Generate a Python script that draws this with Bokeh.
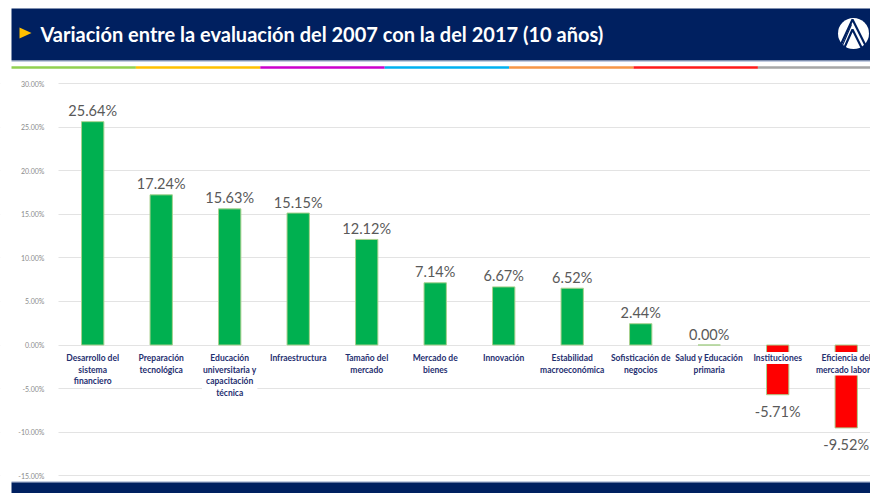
from bokeh.plotting import figure
from bokeh.models import ColumnDataSource, Range1d, FixedTicker, NumeralTickFormatter
from bokeh.core.properties import value
from bokeh.embed import file_html
from bokeh.resources import INLINE

# ---------------- data ----------------
title_text = "Variación entre la evaluación del 2007 con la del 2017 (10 años)"
categories = [
    "Desarrollo del\nsistema\nfinanciero",
    "Preparación\ntecnológica",
    "Educación\nuniversitaria y\ncapacitación\ntécnica",
    "Infraestructura",
    "Tamaño del\nmercado",
    "Mercado de\nbienes",
    "Innovación",
    "Estabilidad\nmacroeconómica",
    "Sofisticación de\nnegocios",
    "Salud y Educación\nprimaria",
    "Instituciones",
    "Eficiencia del\nmercado laboral",
]
variation = [0.2564, 0.1724, 0.1563, 0.1515, 0.1212, 0.0714, 0.0667, 0.0652,
             0.0244, 0.0000, -0.0571, -0.0952]
y_ticks = [-0.15, -0.10, -0.05, 0.0, 0.05, 0.10, 0.15, 0.20, 0.25, 0.30]
stripe_colors = ["#92D050", "#FFC000", "#CC00CC", "#00B0F0", "#F79646", "#FF1A1A", "#A6A6A6"]

NAVY = "#002060"
POS_COLOR = "#00B050"
NEG_COLOR = "#FF0000"

W, H = 870, 493
# layout of the category axis / value axis inside the page (pixels)
CAT_STEP = 68.5      # px per category
CAT0_PX = 92.2       # px of first category centre
ZERO_PX = 344.5      # px of 0 %
PX_PER_UNIT = 871.0  # px per 100 %

x_start = -CAT0_PX / CAT_STEP
x_end = x_start + W / CAT_STEP
y_end = ZERO_PX / PX_PER_UNIT
y_start = (ZERO_PX - H) / PX_PER_UNIT

idx = list(range(len(categories)))
colors = [POS_COLOR if v >= 0 else NEG_COLOR for v in variation]
labels = [f"{v * 100:.2f}%" for v in variation]
lab_off = [-11 if v >= 0 else 17 for v in variation]
src = ColumnDataSource(dict(x=idx, top=variation, color=colors, label=labels,
                            off=lab_off, cat=categories, zero=[0.0] * len(idx)))

p = figure(width=W, height=H, x_range=Range1d(x_start, x_end),
           y_range=Range1d(y_start, y_end), x_axis_location=None,
           toolbar_location=None, output_backend="svg",
           min_border=0, outline_line_color=None)
p.extra_x_ranges = {"px": Range1d(0, W)}
p.extra_y_ranges = {"px": Range1d(H, 0)}

p.xgrid.visible = False
p.ygrid.grid_line_color = "#E3E3E3"
p.ygrid.grid_line_width = 1
p.yaxis.fixed_location = -0.5
p.yaxis.ticker = FixedTicker(ticks=y_ticks)
p.yaxis.formatter = NumeralTickFormatter(format="0.00%")
p.yaxis.axis_line_color = None
p.yaxis.major_tick_line_color = None
p.yaxis.minor_tick_line_color = None
p.yaxis.major_label_standoff = 8
p.yaxis.major_label_text_font = "Lato"
p.yaxis.major_label_text_font_size = "7px"
p.yaxis.major_label_text_color = "#8C8C8C"

# white cover so that grid lines start at the value axis
p.quad(left=[0], right=[58], top=[72], bottom=[481], fill_color="white", line_color=None,
       x_range_name="px", y_range_name="px")

# ---------------- header ----------------
p.quad(left=[11], right=[W], top=[8], bottom=[60], fill_color=NAVY, line_color=None,
       x_range_name="px", y_range_name="px")
p.segment(x0=[11], x1=[W], y0=[61], y1=[61], line_color="#C3CCE0", line_width=1,
          x_range_name="px", y_range_name="px")
seg_w = 124.4
x0s = [11 + seg_w * i for i in range(len(stripe_colors))]
x1s = [min(W, x + seg_w) for x in x0s]
x1s[-1] = W
p.segment(x0=x0s, x1=x1s, y0=[67] * len(x0s), y1=[67] * len(x0s),
          line_color=stripe_colors, line_width=2.6, x_range_name="px", y_range_name="px")
p.patch(x=[19, 31, 19], y=[27, 32.5, 38], fill_color="#FFC000", line_color=None,
        x_range_name="px", y_range_name="px")
p.text(x=[40], y=[33], text=[title_text], text_color="white",
       text_font=value("Lato"), text_font_style="bold", text_font_size="20px",
       text_baseline="alphabetic", text_align="left", x_range_name="px", y_range_name="px")
# logo
p.circle(x=[853], y=[33], radius=15.5, fill_color="white", line_color=None,
         x_range_name="px", y_range_name="px")
p.multi_line(xs=[[839, 852, 866], [844, 852, 861]], ys=[[47, 19, 47], [47, 29, 47]],
             line_color=NAVY, line_width=2.2, x_range_name="px", y_range_name="px")
p.multi_line(xs=[[841, 851]], ys=[[47, 24]], line_color=NAVY, line_width=1.2,
             x_range_name="px", y_range_name="px")

# ---------------- footer ----------------
p.segment(x0=[11], x1=[W], y0=[481.5], y1=[481.5], line_color="#8C9CC4", line_width=1,
          x_range_name="px", y_range_name="px")
p.quad(left=[11], right=[W], top=[482], bottom=[H], fill_color=NAVY, line_color=None,
       x_range_name="px", y_range_name="px")

# ---------------- bars and labels ----------------
p.vbar(x="x", top="top", bottom=0, width=0.326, fill_color="color",
       line_color="#A9D18E", line_width=1, source=src)
p.text(x="x", y="top", text="label", y_offset="off", text_align="center",
       text_baseline="alphabetic", text_font=value("Lato"), text_font_size="14.5px",
       text_color="#595959", source=src)
p.text(x="x", y="zero", text="cat", y_offset=7, text_align="center",
       text_baseline="top", text_font=value("Lato"), text_font_style="bold",
       text_font_size="8.5px", text_line_height=1.15, text_color="#1F3070",
       background_fill_color="white", padding=1, source=src)

open("out.html", "w").write(file_html(p, INLINE))
